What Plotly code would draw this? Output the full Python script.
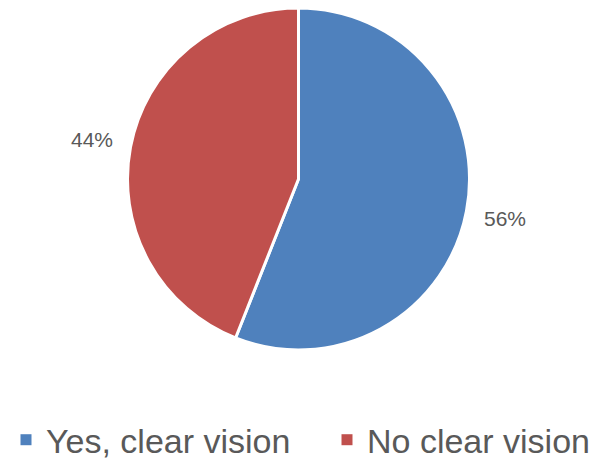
import math
import plotly.graph_objects as go

labels = ["Yes, clear vision", "No clear vision"]
values = [56, 44]
colors = ["#4F81BD", "#C0504D"]

W, H = 595, 452
cx, cy, r = 290.5, 171.0, 171.0  # pie centre/radius in figure px (from top)
FONT = "Liberation Sans, Arial, sans-serif"
GREY = "#595959"

fig = go.Figure()
fig.add_trace(go.Pie(
    labels=labels,
    values=values,
    sort=False,
    direction="clockwise",
    rotation=0,
    marker=dict(colors=colors, line=dict(color="white", width=3)),
    textinfo="none",
    showlegend=False,
    domain=dict(x=[(cx - r) / W, (cx + r) / W], y=[1 - (cy + r) / H, 1 - (cy - r) / H]),
    automargin=False,
))

# legend entries (one legend per category so the spacing can match)
legend_ids = ["legend", "legend2"]
for lab, col, lid in zip(labels, colors, legend_ids):
    fig.add_trace(go.Scatter(
        x=[None], y=[None], mode="markers", name=lab,
        marker=dict(symbol="square", size=11, color=col),
        legend=lid, showlegend=True, hoverinfo="skip",
    ))

# percentage labels placed along each slice's mid-angle, outside the pie
total = sum(values)
cum = 0
annotations = []
for v in values:
    mid = (cum + v / 2) / total * 2 * math.pi
    cum += v
    d = 1.23 * r
    px = cx + d * math.sin(mid)
    py = cy - d * math.cos(mid)
    annotations.append(dict(
        x=px / W, y=1 - py / H, xref="paper", yref="paper",
        text=f"{round(v / total * 100)}%", showarrow=False,
        xanchor="center", yanchor="middle",
        font=dict(family=FONT, size=21, color=GREY),
    ))

legend_style = dict(
    orientation="h",
    yanchor="middle", y=0.044,
    xanchor="left",
    font=dict(family=FONT, size=34, color=GREY),
    itemwidth=30,
    bgcolor="rgba(0,0,0,0)",
)

fig.update_layout(
    width=W, height=H,
    margin=dict(l=0, r=0, t=0, b=0, autoexpand=False),
    paper_bgcolor="white",
    plot_bgcolor="white",
    xaxis=dict(visible=False),
    yaxis=dict(visible=False),
    annotations=annotations,
    legend=dict(x=-2 / W, **legend_style),
    legend2=dict(x=319 / W, **legend_style),
)

fig.write_html("out.html")
